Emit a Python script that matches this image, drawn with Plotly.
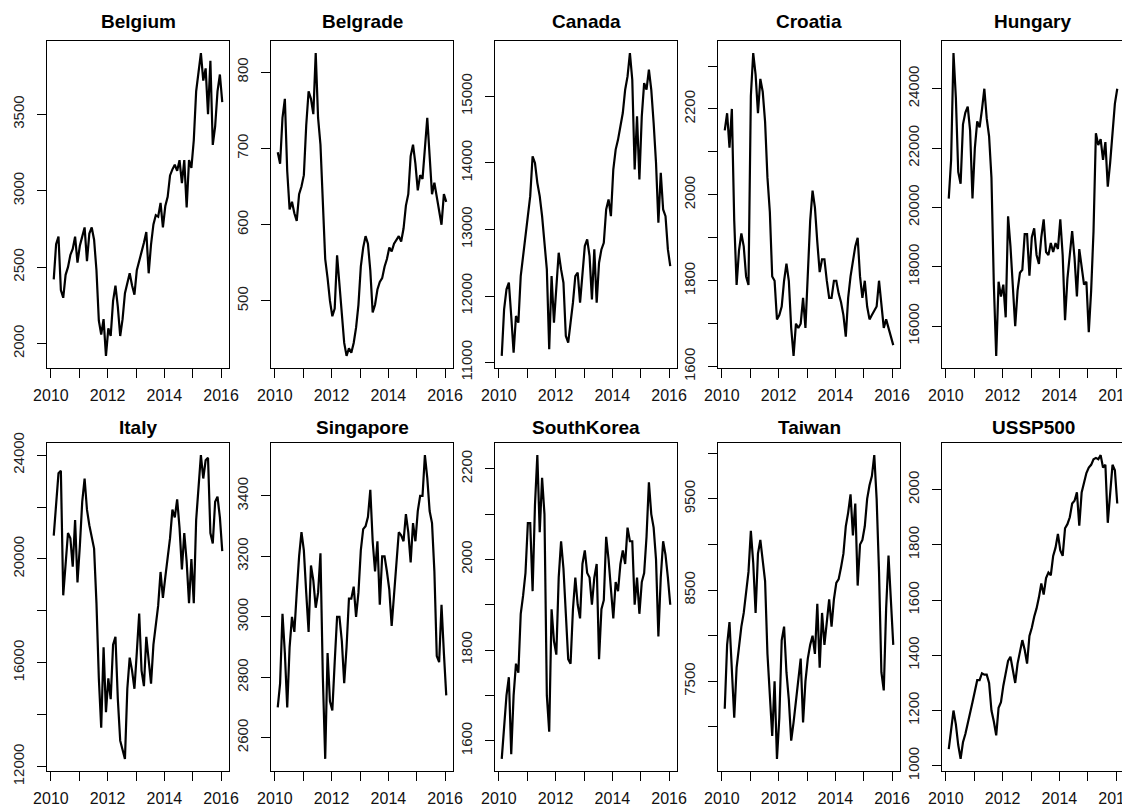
import numpy as np
import plotly.graph_objects as go

# ---------------- data (monthly readings, Feb 2010 .. Jan 2016) ----------------
time_years = np.linspace(2010.1, 2016.04, 72)

belgium = [2420, 2650, 2700, 2350, 2300, 2450, 2500, 2580, 2620, 2700, 2530, 2640,
           2700, 2760, 2540, 2720, 2760, 2680, 2480, 2150, 2060, 2160, 1920, 2100,
           2050, 2280, 2380, 2240, 2050, 2160, 2330, 2400, 2460, 2380, 2320, 2480,
           2550, 2600, 2660, 2730, 2460, 2650, 2780, 2840, 2830, 2920, 2760, 2900,
           2960, 3100, 3140, 3170, 3130, 3200, 3050, 3200, 2890, 3200, 3150, 3330,
           3650, 3780, 3900, 3720, 3800, 3500, 3850, 3300, 3420, 3650, 3760, 3580]

belgrade = [695, 680, 740, 765, 670, 620, 630, 615, 605, 640, 650, 665,
            730, 775, 765, 745, 825, 740, 705, 620, 555, 530, 500, 480,
            490, 560, 520, 485, 445, 428, 438, 432, 445, 465, 495, 545,
            570, 585, 575, 540, 485, 495, 515, 525, 530, 545, 555, 570,
            565, 575, 580, 585, 578, 595, 625, 640, 690, 705, 680, 645,
            665, 660, 700, 740, 690, 640, 655, 635, 615, 600, 640, 630]

canada = [11100, 11800, 12100, 12200, 11700, 11150, 11700, 11600, 12300, 12600, 12900, 13200,
          13500, 14100, 14000, 13700, 13500, 13200, 12750, 12400, 11200, 12300, 11600, 12200,
          12650, 12400, 12200, 11400, 11300, 11600, 11900, 12300, 12350, 11900, 12300, 12750,
          12850, 12600, 11950, 12700, 11900, 12500, 12700, 12800, 13300, 13450, 13200, 13900,
          14200, 14350, 14550, 14750, 15100, 15300, 15650, 15250, 13900, 14700, 13750, 14700,
          15200, 15100, 15400, 15100, 14600, 14000, 13100, 13850, 13300, 13200, 12700, 12450]

croatia = [2150, 2190, 2110, 2200, 1940, 1790, 1870, 1910, 1880, 1810, 1790, 2230,
           2330, 2280, 2190, 2270, 2240, 2170, 2040, 1960, 1810, 1800, 1710, 1720,
           1740, 1800, 1840, 1800, 1690, 1625, 1700, 1690, 1700, 1760, 1690, 1820,
           1940, 2010, 1970, 1890, 1820, 1850, 1850, 1800, 1760, 1760, 1800, 1800,
           1770, 1750, 1720, 1670, 1760, 1810, 1850, 1880, 1900, 1810, 1760, 1800,
           1740, 1710, 1720, 1730, 1740, 1800, 1740, 1690, 1710, 1690, 1670, 1650]

hungary = [20300, 21600, 25200, 23700, 21200, 20800, 22800, 23200, 23400, 22600, 20300, 22000,
           22900, 22700, 23300, 24000, 23000, 22400, 21000, 17400, 15000, 17500, 17000, 17400,
           16300, 19700, 18700, 17500, 16000, 17200, 17800, 17900, 19100, 19100, 17700, 19000,
           19300, 18400, 18100, 19000, 19600, 18500, 18400, 18800, 18500, 18800, 18600, 19600,
           18400, 16200, 17600, 18400, 19200, 18300, 17000, 18600, 18000, 17400, 17500, 15800,
           17200, 19200, 22500, 22100, 22300, 21600, 22200, 20700, 21500, 22600, 23500, 24000]

italy = [20900, 22200, 23300, 23400, 18600, 19800, 21000, 20800, 19700, 21500, 19100, 20500,
         22200, 23100, 21900, 21300, 20800, 20400, 18300, 15400, 13500, 16600, 14100, 15400,
         14600, 16700, 17000, 14600, 13000, 12700, 12300, 15000, 16200, 15700, 15000, 16400,
         17900, 15700, 15100, 17000, 16000, 15200, 16700, 17500, 18200, 19500, 18500, 19300,
         20100, 20800, 21900, 21600, 22300, 21200, 19600, 21000, 19900, 18300, 20000, 18300,
         21500, 22900, 24000, 23100, 23800, 23900, 21000, 20600, 22200, 22400, 21600, 20300]

singapore = [2700, 2780, 3010, 2880, 2700, 2900, 3000, 2950, 3080, 3200, 3280, 3220,
             3080, 2950, 3170, 3120, 3030, 3080, 3210, 2800, 2530, 2880, 2720, 2690,
             2850, 3000, 3000, 2920, 2780, 2900, 3060, 3060, 3100, 3000, 3080, 3220,
             3290, 3300, 3330, 3420, 3250, 3150, 3250, 3040, 3200, 3200, 3150, 3090,
             2970, 3070, 3180, 3280, 3270, 3250, 3340, 3280, 3180, 3310, 3250, 3350,
             3400, 3400, 3535, 3460, 3350, 3310, 3150, 2870, 2850, 3040, 2880, 2740]

south_korea = [1560, 1640, 1700, 1740, 1570, 1700, 1770, 1750, 1880, 1920, 1970, 2080,
               2080, 1930, 2120, 2230, 2060, 2180, 2100, 1700, 1620, 1890, 1820, 1790,
               1960, 2040, 1980, 1880, 1780, 1770, 1890, 1960, 1900, 1870, 1990, 2020,
               1970, 1960, 1900, 1960, 1990, 1780, 1890, 1910, 2050, 2000, 1940, 1870,
               1950, 1930, 1990, 2020, 1990, 2070, 2040, 2040, 1900, 1960, 1880, 1950,
               1970, 2050, 2170, 2100, 2070, 2000, 1830, 1960, 2040, 2010, 1960, 1900]

taiwan = [7200, 7900, 8150, 7600, 7100, 7650, 7900, 8100, 8250, 8450, 8700, 9150,
          8800, 8250, 8900, 9050, 8800, 8600, 7800, 7300, 6900, 7500, 6650, 7100,
          7950, 8100, 7600, 7300, 6850, 7050, 7300, 7500, 7750, 7050, 7500, 7750,
          7900, 8000, 7800, 8350, 7650, 8250, 7900, 8150, 8400, 8100, 8400, 8580,
          8620, 8750, 8900, 9200, 9350, 9550, 9100, 9450, 8550, 9000, 9050, 9200,
          9500, 9650, 9750, 9980, 9500, 8700, 7600, 7400, 8300, 8880, 8300, 7900]

us_sp500 = [1060, 1140, 1200, 1150, 1075, 1025, 1085, 1115, 1150, 1190, 1230, 1270,
            1310, 1310, 1335, 1330, 1330, 1300, 1200, 1160, 1110, 1210, 1230, 1290,
            1330, 1380, 1395, 1350, 1300, 1370, 1420, 1455, 1420, 1370, 1470, 1500,
            1540, 1570, 1610, 1660, 1620, 1680, 1700, 1690, 1760, 1790, 1840, 1780,
            1760, 1860, 1875, 1900, 1950, 1960, 1990, 1870, 1990, 2030, 2060, 2080,
            2090, 2110, 2115, 2110, 2125, 2080, 2090, 1880, 2000, 2090, 2070, 1950]

panel_names = ["Belgium", "Belgrade", "Canada", "Croatia", "Hungary",
               "Italy", "Singapore", "SouthKorea", "Taiwan", "USSP500"]
panel_series = [belgium, belgrade, canada, croatia, hungary,
                italy, singapore, south_korea, taiwan, us_sp500]

# y tick positions and which of them carry a label
y_ticks = [
    [2000, 2500, 3000, 3500],
    [500, 600, 700, 800],
    [11000, 12000, 13000, 14000, 15000],
    [1600, 1700, 1800, 1900, 2000, 2100, 2200, 2300],
    [16000, 18000, 20000, 22000, 24000],
    [12000, 14000, 16000, 18000, 20000, 22000, 24000],
    [2600, 2800, 3000, 3200, 3400],
    [1600, 1700, 1800, 1900, 2000, 2100, 2200],
    [6500, 7000, 7500, 8000, 8500, 9000, 9500, 10000],
    [1000, 1200, 1400, 1600, 1800, 2000],
]
y_labeled = [
    [2000, 2500, 3000, 3500],
    [500, 600, 700, 800],
    [11000, 12000, 13000, 14000, 15000],
    [1600, 1800, 2000, 2200],
    [16000, 18000, 20000, 22000, 24000],
    [12000, 16000, 20000, 24000],
    [2600, 2800, 3000, 3200, 3400],
    [1600, 1800, 2000, 2200],
    [6500, 7500, 8500, 9500],
    [1000, 1200, 1400, 1600, 1800, 2000],
]
x_ticks = [2010, 2011, 2012, 2013, 2014, 2015, 2016]
x_labeled = [2010, 2012, 2014, 2016]

# ---------------- layout geometry (pixels in the browser window) ----------------
W, H = 1130, 810
PAGE = 8                      # default body margin of the html page
lefts = [47, 271, 495, 718, 942]
pw = 182
rows = [(41, 368), (443, 771)]
title_y = [22, 427]

FONT = "Liberation Sans, Arial, Helvetica, sans-serif"

fig = go.Figure()
annotations = []
layout_axes = {}

t0, t1 = float(time_years[0]), float(time_years[-1])
xpad = 0.04 * (t1 - t0)

for k, (name, vals) in enumerate(zip(panel_names, panel_series)):
    r, c = divmod(k, 5)
    sfx = "" if k == 0 else str(k + 1)
    xa, ya = "x" + sfx, "y" + sfx
    fig.add_trace(go.Scatter(
        x=time_years, y=vals, mode="lines",
        line=dict(color="black", width=2.2),
        xaxis=xa, yaxis=ya, showlegend=False, hoverinfo="skip"))

    lo, hi = min(vals), max(vals)
    ypad = 0.04 * (hi - lo)
    top, bot = rows[r][0] - PAGE, rows[r][1] - PAGE
    x0 = lefts[c] - PAGE

    layout_axes["xaxis" + sfx] = dict(
        domain=[x0 / W, (x0 + pw) / W],
        range=[t0 - xpad, t1 + xpad], anchor=ya, automargin=False,
        tickmode="array", tickvals=x_ticks,
        ticktext=[str(v) if v in x_labeled else "" for v in x_ticks],
        ticks="outside", ticklen=9, tickwidth=1, tickcolor="black",
        showline=True, mirror=True, linecolor="black", linewidth=1,
        showgrid=False, zeroline=False, fixedrange=True,
        ticklabelstandoff=4, ticklabeloverflow="allow",
        tickfont=dict(family=FONT, size=16, color="#111111"))
    layout_axes["yaxis" + sfx] = dict(
        domain=[1 - bot / H, 1 - top / H],
        range=[lo - ypad, hi + ypad], anchor=xa, automargin=False,
        tickmode="array", tickvals=y_ticks[k],
        ticktext=[str(v) if v in y_labeled[k] else "" for v in y_ticks[k]],
        tickangle=-90,
        ticks="outside", ticklen=9, tickwidth=1, tickcolor="black",
        showline=True, mirror=True, linecolor="black", linewidth=1,
        showgrid=False, zeroline=False, fixedrange=True,
        ticklabelstandoff=7, ticklabeloverflow="allow",
        tickfont=dict(family=FONT, size=15, color="#222222"))

    annotations.append(dict(
        text="<b>" + name + "</b>", x=(x0 + pw / 2) / W, y=1 - (title_y[r] - PAGE) / H,
        xref="paper", yref="paper", xanchor="center", yanchor="middle",
        showarrow=False, font=dict(family=FONT, size=19, color="black")))

fig.update_layout(
    width=W, height=H,
    margin=dict(l=0, r=0, t=0, b=0, autoexpand=False),
    paper_bgcolor="white", plot_bgcolor="white",
    annotations=annotations,
    **layout_axes)

fig.write_html("out.html")
